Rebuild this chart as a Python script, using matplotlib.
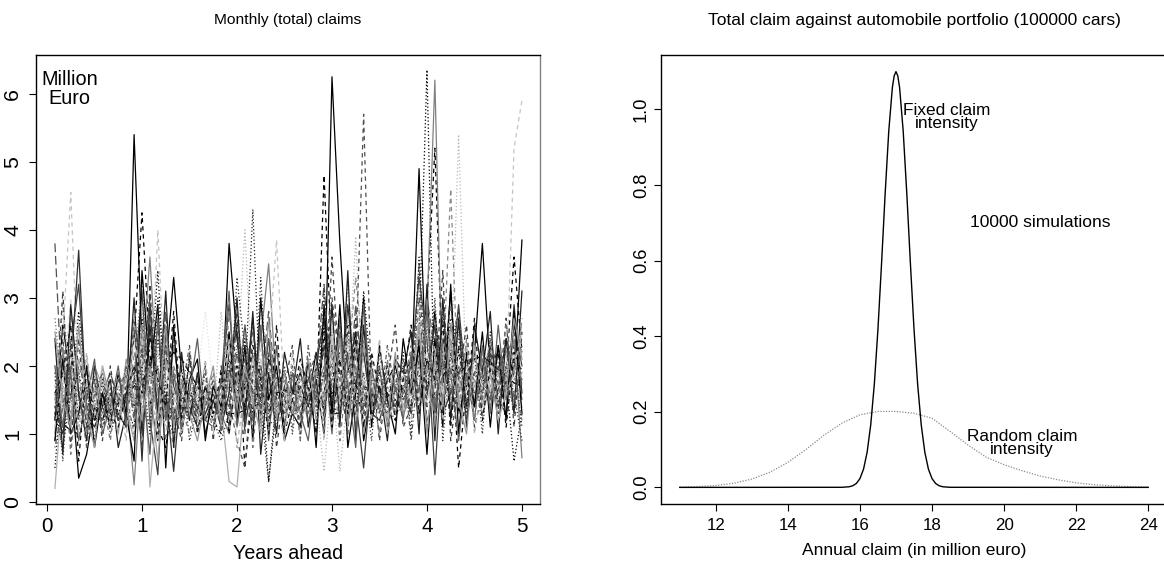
import matplotlib
matplotlib.use('Agg')
import matplotlib.pyplot as plt
from matplotlib import font_manager
import numpy as np

# ---- left panel: simulated monthly total claims (million euro), 60 months each
path_01 = [1.2, 2.6, 1.8, 0.35, 0.7, 1.4, 1.2, 1.6, 1.3, 1.1, 5.4, 2.3,
           1.5, 0.9, 2.0, 3.3, 1.9, 1.5, 1.2, 1.7, 1.4, 1.3, 3.8, 2.4,
           1.6, 2.7, 1.2, 2.1, 1.8, 1.4, 1.6, 1.9, 1.5, 2.2, 1.3, 6.25,
           3.8, 1.9, 2.5, 0.9, 1.6, 1.4, 1.8, 2.0, 1.5, 1.7, 4.9, 1.5,
           2.8, 1.6, 3.1, 1.3, 1.7, 2.2, 3.8, 1.9, 1.6, 2.4, 1.8, 3.85]
path_02 = [1.3, 1.7, 2.2, 1.5, 1.2, 1.6, 1.4, 1.1, 1.5, 1.8, 2.4, 4.25,
           2.2, 1.1, 0.8, 1.6, 1.4, 1.3, 1.7, 1.5, 1.2, 1.0, 1.9, 2.6,
           0.5, 1.7, 2.3, 1.6, 1.9, 1.5, 1.3, 1.8, 1.7, 1.4, 4.8, 2.0,
           1.4, 2.6, 1.8, 1.1, 1.5, 1.9, 1.6, 1.4, 1.8, 2.1, 1.2, 2.9,
           5.2, 1.8, 2.4, 0.5, 1.7, 1.4, 2.0, 1.8, 1.6, 1.9, 3.6, 2.2]
path_03 = [0.5, 1.9, 1.4, 2.8, 1.6, 1.3, 1.5, 1.2, 1.7, 1.4, 1.1, 2.7,
           1.8, 3.4, 1.3, 1.0, 1.5, 1.7, 1.3, 1.4, 1.6, 1.2, 2.1, 1.6,
           2.4, 1.3, 1.9, 0.3, 1.4, 1.6, 1.9, 1.5, 1.3, 1.7, 2.6, 1.4,
           2.2, 1.5, 1.2, 3.1, 1.8, 1.5, 1.3, 1.7, 2.0, 1.6, 2.5, 6.35,
           1.3, 2.8, 1.6, 2.2, 1.4, 1.9, 1.7, 2.3, 1.5, 1.8, 0.6, 1.3]
path_04 = [1.6, 1.1, 2.3, 3.2, 1.4, 1.2, 1.6, 1.9, 1.5, 1.3, 1.8, 3.1,
           1.2, 0.4, 2.5, 1.7, 1.3, 1.6, 1.4, 1.2, 1.5, 1.7, 2.9, 1.4,
           2.6, 1.5, 2.0, 1.3, 1.7, 1.9, 1.4, 1.6, 1.8, 1.5, 2.3, 1.7,
           1.6, 2.2, 1.5, 0.5, 1.9, 1.6, 1.4, 1.8, 1.6, 2.0, 3.3, 2.4,
           0.4, 2.3, 1.8, 2.9, 1.6, 1.9, 2.1, 1.5, 2.3, 1.7, 2.6, 2.0]
path_05 = [3.8, 1.4, 1.2, 2.0, 1.7, 1.5, 1.3, 1.6, 1.4, 1.9, 1.3, 1.9,
           3.0, 1.5, 2.8, 1.2, 1.6, 1.4, 1.8, 1.3, 1.5, 1.6, 1.4, 2.2,
           1.3, 2.2, 1.7, 2.8, 1.5, 1.3, 1.6, 1.4, 1.7, 1.9, 3.2, 1.5,
           2.4, 1.4, 2.9, 1.6, 1.3, 1.7, 1.5, 1.9, 1.4, 1.6, 2.2, 3.0,
           2.2, 1.5, 1.9, 2.6, 2.0, 1.6, 1.8, 2.1, 1.4, 1.7, 2.3, 1.5]
path_06 = [1.0, 2.2, 1.5, 1.3, 1.8, 1.6, 1.3, 1.5, 1.2, 1.6, 0.25, 2.0,
           3.6, 1.6, 1.2, 2.3, 1.5, 1.2, 1.6, 1.4, 1.7, 1.3, 1.0, 1.9,
           1.4, 1.9, 2.4, 3.5, 1.6, 1.4, 1.7, 1.5, 1.3, 1.6, 2.0, 1.2,
           2.7, 1.2, 2.0, 1.5, 1.4, 1.8, 1.6, 1.3, 1.7, 1.5, 1.9, 2.8,
           6.2, 1.4, 2.6, 1.8, 1.5, 1.7, 1.9, 1.6, 2.0, 1.8, 2.4, 0.65]
path_07 = [1.8, 1.3, 2.7, 1.6, 1.3, 1.1, 1.5, 1.8, 1.6, 1.2, 2.2, 1.5,
           2.7, 1.9, 1.4, 0.8, 1.7, 1.5, 1.2, 1.6, 1.4, 1.5, 2.4, 1.1,
           1.9, 2.6, 1.1, 1.8, 1.3, 1.7, 1.5, 1.3, 1.6, 1.4, 1.7, 2.9,
           1.2, 2.0, 3.3, 2.1, 1.6, 1.3, 1.7, 1.5, 1.9, 1.4, 2.7, 1.6,
           2.5, 1.9, 4.6, 1.5, 1.8, 2.1, 1.6, 1.9, 1.7, 2.2, 1.4, 2.7]
path_08 = [1.4, 2.9, 1.7, 1.1, 1.5, 1.7, 1.4, 1.3, 1.8, 1.5, 1.7, 2.9,
           1.3, 2.2, 1.6, 1.4, 1.2, 1.6, 1.5, 1.8, 1.3, 1.6, 1.6, 2.7,
           1.7, 1.2, 2.9, 1.5, 1.4, 1.2, 1.6, 1.7, 1.4, 1.3, 1.9, 2.5,
           1.5, 3.2, 1.4, 1.9, 1.5, 1.6, 1.3, 1.8, 1.5, 1.7, 1.4, 2.3,
           2.9, 1.5, 2.0, 1.6, 2.3, 1.5, 1.7, 1.4, 1.9, 1.6, 2.0, 2.4]
path_09 = [0.2, 1.7, 1.3, 1.9, 2.1, 1.4, 1.6, 1.2, 1.5, 1.8, 1.4, 2.6,
           0.22, 1.5, 1.8, 1.3, 1.6, 1.4, 1.2, 1.5, 1.8, 1.4, 0.3, 0.22,
           1.6, 2.1, 1.3, 1.7, 1.5, 1.6, 1.4, 1.2, 1.5, 1.8, 1.3, 2.2,
           1.9, 1.3, 2.4, 1.6, 1.4, 1.7, 1.5, 1.6, 1.3, 1.5, 2.1, 1.2,
           1.7, 2.3, 1.4, 2.0, 1.8, 1.5, 2.2, 1.7, 1.6, 2.0, 1.9, 1.4]
path_10 = [1.9, 2.4, 4.55, 1.6, 1.5, 1.8, 1.4, 1.6, 1.3, 1.7, 1.6, 2.1,
           1.4, 4.0, 1.5, 1.9, 1.3, 1.5, 1.7, 1.4, 1.6, 1.3, 1.8, 1.5,
           2.0, 1.4, 1.8, 2.2, 3.85, 1.5, 1.3, 1.6, 1.4, 1.7, 1.5, 1.9,
           1.7, 2.3, 1.5, 2.6, 1.7, 1.4, 1.8, 1.5, 1.6, 1.9, 2.3, 1.4,
           2.1, 1.6, 2.5, 1.8, 1.5, 1.9, 1.6, 2.0, 1.8, 1.7, 5.2, 5.9]
path_11 = [1.5, 1.2, 2.0, 1.8, 1.4, 1.3, 1.9, 1.5, 1.7, 1.2, 1.9, 1.4,
           2.5, 1.7, 1.1, 1.5, 1.8, 1.6, 1.3, 1.5, 1.2, 2.8, 1.5, 2.0,
           4.0, 1.6, 1.4, 1.9, 1.3, 1.7, 1.5, 1.4, 1.8, 1.5, 0.45, 1.8,
           0.45, 1.6, 3.9, 1.3, 1.8, 1.5, 1.7, 1.4, 1.6, 1.9, 1.7, 2.5,
           1.6, 2.2, 1.8, 5.4, 1.6, 2.0, 1.5, 1.8, 2.1, 1.6, 1.5, 2.2]
path_12 = [2.3, 1.6, 3.0, 1.2, 1.8, 1.5, 1.7, 1.4, 1.3, 1.6, 1.2, 1.8,
           1.9, 1.3, 2.2, 1.6, 1.4, 1.8, 1.6, 1.3, 1.5, 1.7, 2.0, 1.6,
           1.5, 2.4, 1.6, 1.3, 1.7, 1.5, 1.4, 1.8, 1.6, 1.4, 2.2, 1.4,
           2.2, 1.5, 1.7, 2.0, 1.6, 1.8, 1.4, 1.7, 1.9, 1.5, 1.8, 3.0,
           1.9, 2.5, 1.5, 2.3, 1.7, 1.6, 2.0, 1.5, 1.8, 2.2, 1.7, 1.6]
path_13 = [1.7, 2.0, 1.4, 2.4, 1.2, 1.6, 1.5, 1.9, 1.4, 1.3, 1.5, 1.3,
           1.6, 1.8, 1.4, 1.2, 1.5, 1.3, 1.8, 2.8, 1.7, 1.5, 1.3, 1.7,
           1.2, 1.6, 1.5, 1.7, 1.9, 1.3, 1.6, 1.5, 1.7, 1.6, 1.4, 2.1,
           1.8, 1.4, 1.6, 1.8, 1.5, 1.4, 1.6, 1.9, 1.5, 1.3, 1.6, 1.9,
           1.5, 1.7, 2.1, 1.4, 1.9, 1.7, 1.4, 1.6, 2.0, 1.9, 1.8, 2.0]
path_14 = [1.1, 1.5, 1.6, 1.4, 1.3, 1.9, 1.2, 1.4, 1.6, 1.5, 2.0, 1.7,
           2.0, 1.4, 1.9, 2.4, 1.3, 1.5, 1.4, 1.6, 1.3, 1.4, 1.7, 2.3,
           1.8, 1.5, 2.5, 1.4, 1.6, 1.8, 1.3, 1.4, 1.5, 1.8, 1.6, 1.8,
           1.9, 1.7, 1.3, 1.7, 1.4, 1.5, 1.9, 1.6, 1.8, 1.4, 2.0, 1.7,
           1.8, 1.3, 2.2, 1.6, 1.9, 1.8, 1.5, 2.2, 1.7, 2.0, 2.1, 1.8]
path_15 = [1.25, 1.15, 1.05, 1.0, 1.1, 1.2, 1.3, 1.35, 1.45, 1.55, 1.7, 1.8,
           1.85, 1.95, 2.05, 2.2, 2.1, 1.9, 1.7, 1.55, 1.45, 1.35, 1.3, 1.3,
           1.35, 1.4, 1.45, 1.55, 1.6, 1.65, 1.6, 1.55, 1.5, 1.5, 1.55, 1.6,
           1.65, 1.7, 1.75, 1.7, 1.65, 1.6, 1.55, 1.6, 1.7, 1.8, 1.85, 1.9,
           1.95, 2.0, 1.95, 1.9, 2.0, 2.1, 2.15, 2.05, 1.95, 1.85, 1.75, 1.7]
path_16 = [1.4, 1.0, 1.9, 3.7, 1.3, 1.1, 1.4, 1.7, 1.2, 1.5, 2.7, 0.6,
           2.9, 1.2, 1.6, 0.45, 1.8, 1.4, 1.1, 1.3, 1.6, 1.2, 2.2, 2.5,
           1.1, 1.8, 1.5, 2.4, 1.2, 1.5, 1.3, 1.7, 1.4, 2.0, 2.7, 1.3,
           1.3, 2.9, 1.7, 2.2, 1.3, 1.2, 1.6, 1.4, 1.7, 1.3, 2.4, 1.9,
           2.6, 1.3, 1.6, 1.9, 2.1, 1.4, 1.8, 2.3, 1.5, 1.3, 2.9, 1.6]
path_17 = [1.7, 1.5, 1.2, 2.1, 1.6, 2.0, 1.7, 1.3, 1.5, 1.4, 0.9, 1.6,
           1.7, 0.6, 2.1, 1.5, 1.4, 1.7, 1.5, 1.2, 1.4, 1.6, 1.2, 1.8,
           2.2, 1.4, 1.7, 1.2, 1.5, 1.3, 1.8, 1.6, 1.2, 1.5, 1.8, 2.3,
           1.5, 1.8, 1.1, 2.3, 1.7, 1.4, 1.5, 1.3, 1.4, 1.8, 1.5, 2.0,
           1.4, 2.0, 1.7, 1.5, 1.4, 1.8, 1.3, 1.7, 1.9, 1.5, 1.6, 1.9]
path_18 = [0.9, 2.4, 1.1, 1.7, 1.5, 1.2, 1.6, 1.4, 1.8, 1.4, 1.6, 2.2,
           1.6, 2.6, 1.3, 1.8, 1.6, 1.3, 1.5, 1.7, 1.3, 1.4, 1.5, 0.9,
           0.5, 2.0, 1.6, 1.9, 1.4, 1.6, 1.5, 1.2, 1.9, 1.6, 1.6, 3.0,
           2.0, 1.3, 2.1, 5.7, 1.5, 1.7, 1.4, 1.5, 1.3, 1.6, 3.5, 1.1,
           1.9, 2.7, 1.3, 1.7, 1.6, 1.5, 1.9, 1.4, 1.8, 2.0, 2.5, 1.7]
path_19 = [2.0, 1.3, 1.8, 1.5, 1.9, 1.6, 1.8, 1.5, 1.7, 1.9, 1.5, 2.4,
           1.5, 1.9, 1.7, 2.0, 1.7, 1.4, 1.6, 1.8, 1.6, 1.5, 2.3, 1.5,
           1.8, 1.5, 2.1, 1.6, 1.3, 1.5, 1.7, 1.8, 1.6, 1.7, 1.5, 2.4,
           1.6, 2.4, 1.8, 1.5, 1.7, 1.6, 1.5, 1.7, 1.4, 1.6, 2.6, 1.5,
           2.0, 1.6, 2.3, 1.7, 2.0, 1.7, 1.6, 1.9, 1.7, 1.8, 2.2, 1.8]
path_20 = [1.3, 0.8, 1.6, 1.9, 1.4, 1.5, 1.1, 1.6, 1.3, 1.6, 1.8, 1.4,
           1.1, 2.4, 1.5, 1.3, 1.5, 1.6, 1.4, 1.2, 1.5, 1.7, 1.9, 2.0,
           1.7, 4.3, 1.4, 0.3, 1.6, 1.3, 1.5, 1.7, 1.4, 1.5, 1.9, 1.6,
           1.7, 1.2, 1.9, 1.6, 1.4, 1.9, 1.6, 1.5, 1.6, 1.4, 1.7, 2.1,
           1.5, 1.9, 2.7, 2.4, 1.8, 1.6, 1.7, 1.5, 2.0, 1.7, 2.1, 1.1]
path_21 = [2.7, 1.6, 1.3, 1.5, 1.2, 1.4, 1.6, 1.3, 1.5, 1.7, 1.9, 3.3,
           1.3, 1.6, 2.3, 1.9, 1.4, 1.5, 1.3, 1.5, 1.7, 1.5, 1.4, 2.2,
           2.1, 1.6, 1.3, 2.0, 1.5, 1.4, 1.6, 1.3, 1.5, 1.4, 2.4, 1.9,
           1.3, 1.9, 2.2, 1.4, 1.6, 1.3, 1.7, 1.4, 1.5, 1.7, 1.3, 2.6,
           1.7, 2.1, 1.5, 2.5, 1.5, 1.7, 1.8, 1.6, 1.4, 1.9, 1.3, 2.3]
path_22 = [1.6, 1.8, 2.5, 1.3, 1.7, 1.9, 1.5, 1.7, 1.6, 1.4, 2.3, 1.9,
           2.3, 1.5, 1.6, 1.4, 1.9, 1.7, 1.5, 1.6, 1.4, 1.8, 1.7, 1.3,
           1.9, 1.7, 2.3, 1.6, 1.8, 1.4, 1.5, 1.6, 1.9, 1.4, 1.7, 2.0,
           2.1, 1.6, 1.9, 1.4, 1.5, 1.7, 1.9, 1.6, 1.7, 1.5, 1.9, 2.2,
           1.6, 1.9, 2.0, 2.1, 1.6, 2.0, 1.7, 1.8, 1.5, 2.1, 1.8, 2.5]
path_23 = [2.4, 0.7, 2.9, 1.6, 0.9, 2.0, 1.4, 1.8, 0.8, 1.3, 3.0, 1.0,
           2.6, 1.3, 3.1, 0.8, 2.2, 1.2, 1.9, 1.0, 1.5, 1.1, 1.6, 3.0,
           1.2, 2.8, 0.7, 1.9, 1.0, 2.2, 1.6, 2.4, 1.1, 1.8, 1.0, 2.9,
           1.1, 3.4, 0.9, 2.6, 1.2, 1.7, 0.9, 2.1, 1.9, 2.5, 1.0, 3.2,
           0.9, 3.0, 1.2, 2.7, 1.1, 2.6, 1.9, 2.8, 1.0, 2.4, 1.3, 3.1]
path_24 = [0.9, 2.1, 1.0, 1.3, 2.0, 0.8, 1.6, 1.1, 1.9, 1.3, 0.6, 3.4,
           1.9, 2.9, 0.5, 2.6, 1.0, 1.8, 2.1, 0.9, 1.7, 1.4, 2.5, 1.2,
           2.3, 0.9, 3.0, 1.5, 2.0, 0.9, 1.3, 1.1, 2.1, 0.8, 2.9, 1.3,
           2.9, 0.8, 1.6, 3.0, 1.1, 2.3, 1.5, 1.0, 2.4, 1.6, 2.3, 0.7,
           2.4, 1.1, 3.2, 1.0, 2.2, 1.4, 2.5, 1.1, 2.3, 1.2, 2.8, 1.3]
path_25 = [1.2, 3.1, 0.8, 2.4, 1.1, 1.8, 0.9, 2.0, 1.2, 1.7, 1.9, 0.8,
           3.2, 1.0, 2.3, 1.4, 0.9, 2.2, 1.3, 2.0, 0.9, 2.0, 1.1, 2.8,
           1.0, 2.6, 1.3, 2.2, 0.8, 1.7, 2.3, 1.0, 1.8, 2.2, 1.2, 3.6,
           1.8, 1.0, 2.7, 1.3, 2.1, 0.9, 1.8, 2.6, 1.1, 1.4, 3.0, 1.4,
           1.6, 3.4, 0.9, 1.8, 2.6, 1.1, 1.6, 2.2, 1.3, 2.7, 1.1, 2.5]
path_26 = [2.0, 1.1, 1.9, 0.9, 1.5, 2.1, 1.0, 1.4, 2.0, 1.1, 2.6, 1.8,
           0.7, 2.7, 1.2, 1.9, 1.1, 1.6, 2.4, 1.2, 1.1, 1.8, 3.1, 1.1,
           1.9, 1.2, 2.6, 0.9, 2.3, 1.1, 1.9, 1.3, 0.9, 1.9, 2.2, 1.0,
           2.5, 1.7, 0.8, 2.9, 1.4, 2.0, 1.1, 1.7, 1.2, 2.2, 1.6, 2.8,
           1.3, 2.4, 1.9, 0.9, 1.9, 1.2, 2.3, 1.3, 2.6, 1.5, 2.0, 1.8]
path_27 = [1.9, 0.6, 2.4, 1.2, 1.7, 0.9, 1.8, 1.0, 1.4, 2.0, 1.4, 2.0,
           1.0, 3.0, 1.7, 1.1, 2.0, 0.9, 1.4, 1.9, 1.2, 0.9, 1.3, 3.3,
           2.2, 1.0, 3.3, 1.2, 1.1, 2.0, 1.0, 1.9, 1.5, 1.1, 3.1, 1.5,
           1.2, 2.5, 1.4, 1.9, 0.9, 2.2, 1.4, 1.2, 2.2, 1.0, 3.6, 1.6,
           3.0, 0.9, 2.2, 2.8, 1.3, 2.2, 1.0, 2.5, 1.4, 2.0, 1.6, 0.9]
path_28 = [1.5, 2.3, 0.7, 1.9, 1.0, 1.7, 1.5, 0.9, 1.9, 1.6, 1.0, 2.6,
           1.3, 2.0, 0.9, 2.0, 1.4, 1.0, 1.7, 1.5, 1.9, 1.2, 2.8, 1.7,
           2.6, 0.8, 2.0, 1.1, 1.8, 1.4, 1.1, 2.0, 1.2, 1.6, 1.4, 2.3,
           0.9, 2.0, 1.6, 2.4, 1.7, 1.0, 2.1, 1.3, 1.6, 2.3, 1.2, 3.0,
           1.1, 1.9, 2.9, 1.3, 2.4, 1.2, 2.1, 1.4, 1.7, 2.6, 1.9, 1.2]
path_29 = [2.5, 1.5, 1.1, 2.6, 1.3, 0.8, 2.0, 1.5, 1.0, 2.1, 1.5, 1.2,
           2.0, 1.2, 2.6, 1.1, 1.8, 1.3, 0.9, 1.5, 2.0, 1.1, 1.9, 1.4,
           2.0, 1.5, 1.0, 2.7, 1.2, 1.9, 1.3, 1.6, 2.1, 1.2, 1.6, 1.9,
           2.4, 1.1, 2.3, 1.0, 1.9, 1.5, 1.2, 2.2, 1.3, 1.7, 2.6, 1.0,
           2.1, 1.4, 2.4, 1.5, 1.0, 2.3, 1.4, 1.9, 1.2, 1.6, 2.7, 2.1]
path_30 = [1.6, 1.9, 2.6, 0.6, 2.0, 1.2, 1.6, 1.3, 1.1, 1.6, 2.0, 1.6,
           2.4, 1.8, 1.4, 2.8, 1.2, 2.1, 1.0, 1.7, 1.3, 1.9, 1.0, 2.0,
           1.4, 2.3, 1.8, 1.0, 2.6, 1.0, 1.5, 2.1, 1.7, 1.0, 2.5, 1.1,
           2.1, 1.3, 2.4, 1.1, 2.2, 1.6, 2.0, 1.2, 1.8, 2.6, 1.3, 2.1,
           1.8, 2.6, 1.1, 2.3, 1.4, 2.7, 1.2, 2.0, 2.2, 1.1, 2.2, 1.9]
path_31 = [1.1, 1.8, 2.2, 1.0, 2.2, 1.3, 2.0, 1.1, 1.6, 0.9, 2.7, 1.3,
           1.8, 0.9, 2.0, 1.6, 1.0, 1.9, 1.2, 2.1, 1.0, 1.5, 2.4, 0.8,
           1.7, 1.9, 1.2, 2.0, 1.5, 0.9, 2.2, 1.2, 1.5, 2.0, 0.9, 2.6,
           1.4, 2.7, 1.2, 1.8, 1.2, 2.4, 1.0, 1.8, 1.4, 1.2, 2.9, 1.8,
           2.3, 1.2, 1.9, 1.4, 2.3, 1.0, 1.8, 2.4, 1.2, 1.6, 1.9, 2.6]
path_32 = [0.8, 1.4, 2.0, 1.7, 0.8, 1.6, 1.9, 1.2, 1.5, 2.0, 1.2, 2.3,
           1.6, 1.5, 2.8, 1.2, 1.6, 2.3, 1.1, 1.4, 1.8, 1.0, 2.0, 1.5,
           2.1, 1.6, 1.4, 2.4, 1.4, 1.5, 2.0, 0.9, 2.3, 1.4, 1.9, 2.0,
           2.6, 1.5, 1.9, 1.4, 2.0, 1.3, 2.3, 1.6, 2.1, 0.9, 2.1, 2.4,
           1.4, 2.1, 1.6, 2.0, 1.2, 1.9, 1.6, 2.4, 1.9, 2.3, 1.5, 2.0]

# ---- right panel: densities of the annual claim (million euro)
fixed_x = [11.0, 15.5, 15.7, 15.8, 15.9, 16.0, 16.1, 16.2, 16.3, 16.4, 16.5,
           16.6, 16.7, 16.8, 16.9, 16.95, 17.0, 17.05, 17.1, 17.2, 17.3, 17.4,
           17.5, 17.6, 17.7, 17.8, 17.9, 18.0, 18.1, 18.2, 18.3, 18.5, 24.0]
fixed_y = [0.0, 0.0002, 0.0016, 0.0042, 0.0103, 0.0232, 0.0483, 0.0932, 0.166,
           0.274, 0.419, 0.593, 0.778, 0.943, 1.058, 1.089, 1.1, 1.089, 1.058,
           0.943, 0.778, 0.593, 0.419, 0.274, 0.166, 0.0932, 0.0483, 0.0232,
           0.0103, 0.0042, 0.0016, 0.0002, 0.0]
random_x = [11.0, 11.5, 12.0, 12.5, 13.0, 13.5, 14.0, 14.5, 15.0, 15.5, 16.0,
            16.5, 17.0, 17.5, 18.0, 18.5, 19.0, 19.5, 20.0, 20.5, 21.0, 21.5,
            22.0, 22.5, 23.0, 23.5, 24.0]
random_y = [0.0005, 0.002, 0.005, 0.011, 0.022, 0.04, 0.066, 0.1, 0.138, 0.17,
            0.192, 0.201, 0.201, 0.196, 0.183, 0.148, 0.112, 0.08, 0.06, 0.044,
            0.03, 0.02, 0.012, 0.007, 0.004, 0.002, 0.001]

paths = [path_01, path_02, path_03, path_04, path_05, path_06, path_07, path_08,
         path_09, path_10, path_11, path_12, path_13, path_14, path_15, path_16,
         path_17, path_18, path_19, path_20, path_21, path_22, path_23, path_24,
         path_25, path_26, path_27, path_28, path_29, path_30, path_31, path_32]

# line look per path: grey level + dash pattern (R-like lty)
SOLID, DASH, DOT, LONG, DOTDASH = None, (3.5, 3), (1, 1.8), (7, 3), (1, 2, 3.5, 2)
styles = [('#000000', SOLID), ('#000000', DASH), ('#000000', DOT),
          ('#404040', SOLID), ('#505050', LONG), ('#808080', SOLID),
          ('#888888', DASH), ('#909090', DOT), ('#b0b0b0', SOLID),
          ('#c4c4c4', DASH), ('#b8b8b8', DOT), ('#d8d8d8', DASH),
          ('#e0e0e0', DOT), ('#606060', DOTDASH), ('#000000', LONG),
          ('#303030', SOLID), ('#a0a0a0', SOLID), ('#505050', DASH),
          ('#c8c8c8', SOLID), ('#202020', DOT), ('#707070', DOT),
          ('#e4e4e4', SOLID), ('#202020', SOLID), ('#000000', SOLID),
          ('#404040', DASH), ('#606060', SOLID), ('#303030', DOT),
          ('#787878', DASH), ('#989898', SOLID), ('#101010', DASH),
          ('#b4b4b4', DASH), ('#585858', DOTDASH)]


def available(name):
    try:
        font_manager.findfont(font_manager.FontProperties(family=name),
                              fallback_to_default=False)
        return True
    except ValueError:
        return False


# the original text is condensed Helvetica; sizes below are Arial-width sizes
if available('Liberation Sans Narrow'):
    FONT, STRETCH = ['Liberation Sans Narrow', 'DejaVu Sans'], 1 / 0.82
elif available('Liberation Sans'):
    FONT, STRETCH = ['Liberation Sans', 'DejaVu Sans'], 1.06
else:
    FONT, STRETCH = ['DejaVu Sans'], 0.9


def fs(size):
    return size * STRETCH


W, H = 1164, 567
fig = plt.figure(figsize=(W / 100, H / 100), dpi=100)
fig.set_facecolor('white')

# left panel
ax1 = fig.add_axes([36 / W, 63 / H, 504 / W, 449 / H])
years = np.arange(1, 61) / 12
for vals, (col, dash) in zip(paths, styles):
    line, = ax1.plot(years, vals, color=col, lw=0.9)
    if dash is not None:
        line.set_dashes(dash)
ax1.set_xlim(-0.116, 5.19)
ax1.set_ylim(-0.03, 6.57)
ax1.set_xticks([0, 1, 2, 3, 4, 5])
ax1.set_yticks([0, 1, 2, 3, 4, 5, 6])
ax1.set_xticklabels(['0', '1', '2', '3', '4', '5'], family=FONT, fontsize=fs(14))
ax1.set_yticklabels(['0', '1', '2', '3', '4', '5', '6'], family=FONT,
                    fontsize=fs(14.5), rotation=90, va='center')
ax1.tick_params(direction='out', length=5, width=0.8)
ax1.tick_params(axis='x', pad=4)
ax1.tick_params(axis='y', pad=5)
ax1.set_xlabel('Years ahead', family=FONT, fontsize=fs(13.3), labelpad=6)
ax1.text(0.24, 6.07, 'Million\nEuro', family=FONT, fontsize=fs(13.5),
         ha='center', va='center', linespacing=0.95)
for s in ax1.spines.values():
    s.set_linewidth(1.0)
ax1.spines['right'].set_color('#808080')
fig.text(288 / W, 1 - 20 / H, 'Monthly (total) claims', family=FONT,
         fontsize=fs(10.5), ha='center', va='center')

# right panel
ax2 = fig.add_axes([661 / W, 63 / H, 506 / W, 449 / H])
ax2.plot(random_x, random_y, color='#8c8c8c', lw=0.9, dashes=(1, 1.2))
ax2.plot(fixed_x, fixed_y, color='black', lw=1.0)
ax2.set_xlim(10.48, 24.52)
ax2.set_ylim(-0.044, 1.144)
ax2.set_xticks([12, 14, 16, 18, 20, 22, 24])
ax2.set_yticks([0.0, 0.2, 0.4, 0.6, 0.8, 1.0])
ax2.set_xticklabels(['12', '14', '16', '18', '20', '22', '24'], family=FONT,
                    fontsize=fs(11.5))
ax2.set_yticklabels(['0.0', '0.2', '0.4', '0.6', '0.8', '1.0'], family=FONT,
                    fontsize=fs(12.5), rotation=90, va='center')
ax2.tick_params(direction='out', length=5, width=0.8)
ax2.tick_params(axis='x', pad=5)
ax2.tick_params(axis='y', pad=3)
ax2.set_xlabel('Annual claim (in million euro)', family=FONT, fontsize=fs(11.8),
               labelpad=7)
ax2.text(18.4, 0.98, 'Fixed claim\nintensity', family=FONT, fontsize=fs(11.7),
         ha='center', va='center', linespacing=0.8)
ax2.text(21.0, 0.70, '10000 simulations', family=FONT, fontsize=fs(11.8),
         ha='center', va='center')
ax2.text(20.5, 0.118, 'Random claim\nintensity', family=FONT, fontsize=fs(11.7),
         ha='center', va='center', linespacing=0.8)
for s in ax2.spines.values():
    s.set_linewidth(1.0)
fig.text(914 / W, 1 - 20 / H,
         'Total claim against automobile portfolio (100000 cars)',
         family=FONT, fontsize=fs(11.8), ha='center', va='center')

fig.savefig('out.png', dpi=100, facecolor='white')
